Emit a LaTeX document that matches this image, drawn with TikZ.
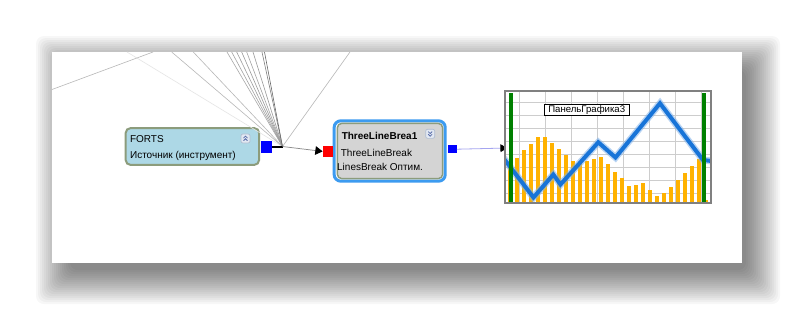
\documentclass[tikz,border=0pt]{standalone}
\usepackage{fontspec}
\setmainfont{Liberation Sans}
\usetikzlibrary{arrows.meta}

\definecolor{srcfill}{RGB}{173,216,230}
\definecolor{boxedge}{RGB}{140,156,124}
\definecolor{blockfill}{RGB}{212,212,212}
\definecolor{selblue}{RGB}{60,155,240}
\definecolor{barorange}{RGB}{255,178,0}
\definecolor{markgreen}{RGB}{0,128,0}
\definecolor{lineblue}{RGB}{24,116,216}
\definecolor{gridgray}{RGB}{205,205,205}
\definecolor{framegray}{RGB}{128,128,128}
\definecolor{linklav}{RGB}{165,165,240}
\definecolor{iconfill}{RGB}{226,232,242}
\definecolor{iconedge}{RGB}{175,188,208}
\definecolor{chevblue}{RGB}{90,110,170}
\newcommand{\uifont}{\fontsize{7.5pt}{9pt}\selectfont}

\begin{document}
\begin{tikzpicture}[x=0.75pt,y=-0.75pt,
				srcbox/.style={
					draw=boxedge,
					fill=srcfill,
					line width=1.5pt,
					rounded corners=3.5pt,
					minimum width=100pt,
					minimum height=27.5pt,
					inner sep=0pt
				},
				blockbox/.style={
					draw=boxedge,
					fill=blockfill,
					line width=1.1pt,
					rounded corners=3pt,
					minimum width=78.8pt,
					minimum height=41.3pt,
					inner sep=0pt
				},
				selframe/.style={draw=selblue,line width=2.25pt,rounded corners=5pt,
					minimum width=83.3pt,minimum height=45.3pt,inner sep=0pt},
				portbox/.style={inner sep=0pt},
				txt/.style={font=\uifont,inner sep=0pt,anchor=base west},
				iconbox/.style={draw=iconedge,fill=iconfill,line width=0.5pt,
					rounded corners=1.5pt,minimum size=6.8pt,inner sep=0pt},
				chevron/.style={draw=chevblue,line width=0.6pt},
				fanline/.style={line width=0.45pt},
				link/.style={draw=black!45,line width=0.55pt,
					-{Triangle[length=5.5pt,width=6.5pt,color=black]}},
				chartlink/.style={draw=linklav,line width=0.6pt,
					-{Triangle[length=5.3pt,width=5.8pt,color=black]}},
				gridline/.style={draw=gridgray,line width=0.6pt}
				]
				\useasboundingbox (0,0) rectangle (794,315);
				\fill[white] (0,0) rectangle (794,315);
				% soft shadow under the canvas
				\foreach \r in {2,4,...,36}
				\fill[black,opacity=0.03,rounded corners=6pt] ({72-\r},{72-\r}) rectangle ({744+\r},{268+\r});
				\fill[white] (52,52) rectangle (742,263);
				
				\node[srcbox] (forts) at (192.4,146.5) {};
				\node[txt] (fortsname) at (129.8,142.3) {FORTS};
				\node[txt] (fortskind) at (129.8,158.6) {Источник (инструмент)};
				\node[iconbox] (upicon) at (245.5,138.5) {};
				\node[portbox,fill=blue,minimum width=8.5pt,minimum height=9pt] (outport1) at (266.3,146.5) {};
				\coordinate (fan) at (282.5,146.5);
				
				\node[selframe] (blocksel) at (389.7,151) {};
				\node[blockbox] (block) at (390,151) {};
				\node[txt,font=\uifont\bfseries] (blockname) at (341.5,139.3) {ThreeLineBrea1};
				\node[txt] (blockkind) at (340.6,156.7) {ThreeLineBreak};
				\node[txt] (blockopt) at (336.9,170.6) {LinesBreak Оптим.};
				\node[iconbox] (downicon) at (430.2,133.8) {};
				\node[portbox,fill=red,minimum width=7.3pt,minimum height=8.8pt] (inport) at (327.8,151.4) {};
				\node[portbox,fill=blue,minimum width=6.5pt,minimum height=6.3pt] (outport2) at (452.3,149.2) {};
				\coordinate (chartin) at (507.5,148);
				
				% collapse / expand marks
				\draw[chevron] ([shift={(-2,-0.4)}]upicon.center) -- ([shift={(0,-2.4)}]upicon.center) -- ([shift={(2,-0.4)}]upicon.center);
				\draw[chevron] ([shift={(-2,2.2)}]upicon.center) -- ([shift={(0,0.2)}]upicon.center) -- ([shift={(2,2.2)}]upicon.center);
				\draw[chevron] ([shift={(-2,-2.2)}]downicon.center) -- ([shift={(0,-0.2)}]downicon.center) -- ([shift={(2,-2.2)}]downicon.center);
				\draw[chevron] ([shift={(-2,0.4)}]downicon.center) -- ([shift={(0,2.4)}]downicon.center) -- ([shift={(2,0.4)}]downicon.center);
				
				% links leaving the canvas
				\foreach \x/\c [count=\n] in {127/black!10,171.7/black!28,193.3/black!28,227/black!34,231.7/black!36,
					236.7/black!38,241.7/black!40,246.7/black!36,253/black!40,262/black!50,264.5/black!58}{
					\coordinate (top\n) at (\x,52);
					\draw[fanline,draw=\c] (fan) -- (top\n);
				}
				\coordinate (topright) at (350,52);
				\draw[fanline,draw=black!28] (fan) -- (topright);
				\coordinate (strayA) at (52,89.5);
				\coordinate (strayB) at (153,52);
				\draw[fanline,draw=black!28] (strayA) -- (strayB);
				
				\draw[line width=1.5pt] (outport1.east) -- (fan);
				\draw[link] (fan) -- (inport.west);
				\draw[chartlink] (outport2.east) -- (chartin);
				
				% chart panel
				\fill[white] (505,91) rectangle (711,203);
				\foreach \k in {0,...,7}{
					\draw[gridline] (505,{102.7+12.9*\k}) -- (711,{102.7+12.9*\k});
					\draw[gridline] ({519.3+26*\k},91) -- ({519.3+26*\k},203);
				}
				\foreach \t [count=\k from 0] in {165,157.7,150,144,137.3,137.3,142.7,149,155,161,164,161,159,157,
					164,172,178,186,185,183,190,196,193,187,180,173,166,159,200}
				\fill[barorange] ({508+7*\k},203) rectangle ({511.5+7*\k},\t);
				\begin{scope}
					\clip (505,91) rectangle (711.5,203);
					\draw[lineblue!55,line width=5.2pt,opacity=0.55] (495,147) -- (533.5,197.5) -- (553.3,174.5) -- (560.5,184.5)
					-- (598.3,142.3) -- (615.5,157.5) -- (660,103.3) -- (703,160) -- (720,162);
					\draw[lineblue,line width=3pt] (495,147) -- (533.5,197.5) -- (553.3,174.5) -- (560.5,184.5)
					-- (598.3,142.3) -- (615.5,157.5) -- (660,103.3) -- (703,160) -- (720,162);
				\end{scope}
				\fill[markgreen] (509,93) rectangle (512.8,202);
				\fill[markgreen] (702,93) rectangle (706,202);
				\node[draw=black,fill=white,line width=0.6pt,font=\fontsize{7.2pt}{8pt}\selectfont,
				minimum width=63.5pt,minimum height=8.6pt,inner sep=0pt] (charttitle) at (586.7,110) {ПанельГрафика3};
				\node[draw=framegray,line width=0.9pt,minimum width=154.5pt,minimum height=84pt,inner sep=0pt] (chart) at (608,147) {};
\end{tikzpicture}
\end{document}
